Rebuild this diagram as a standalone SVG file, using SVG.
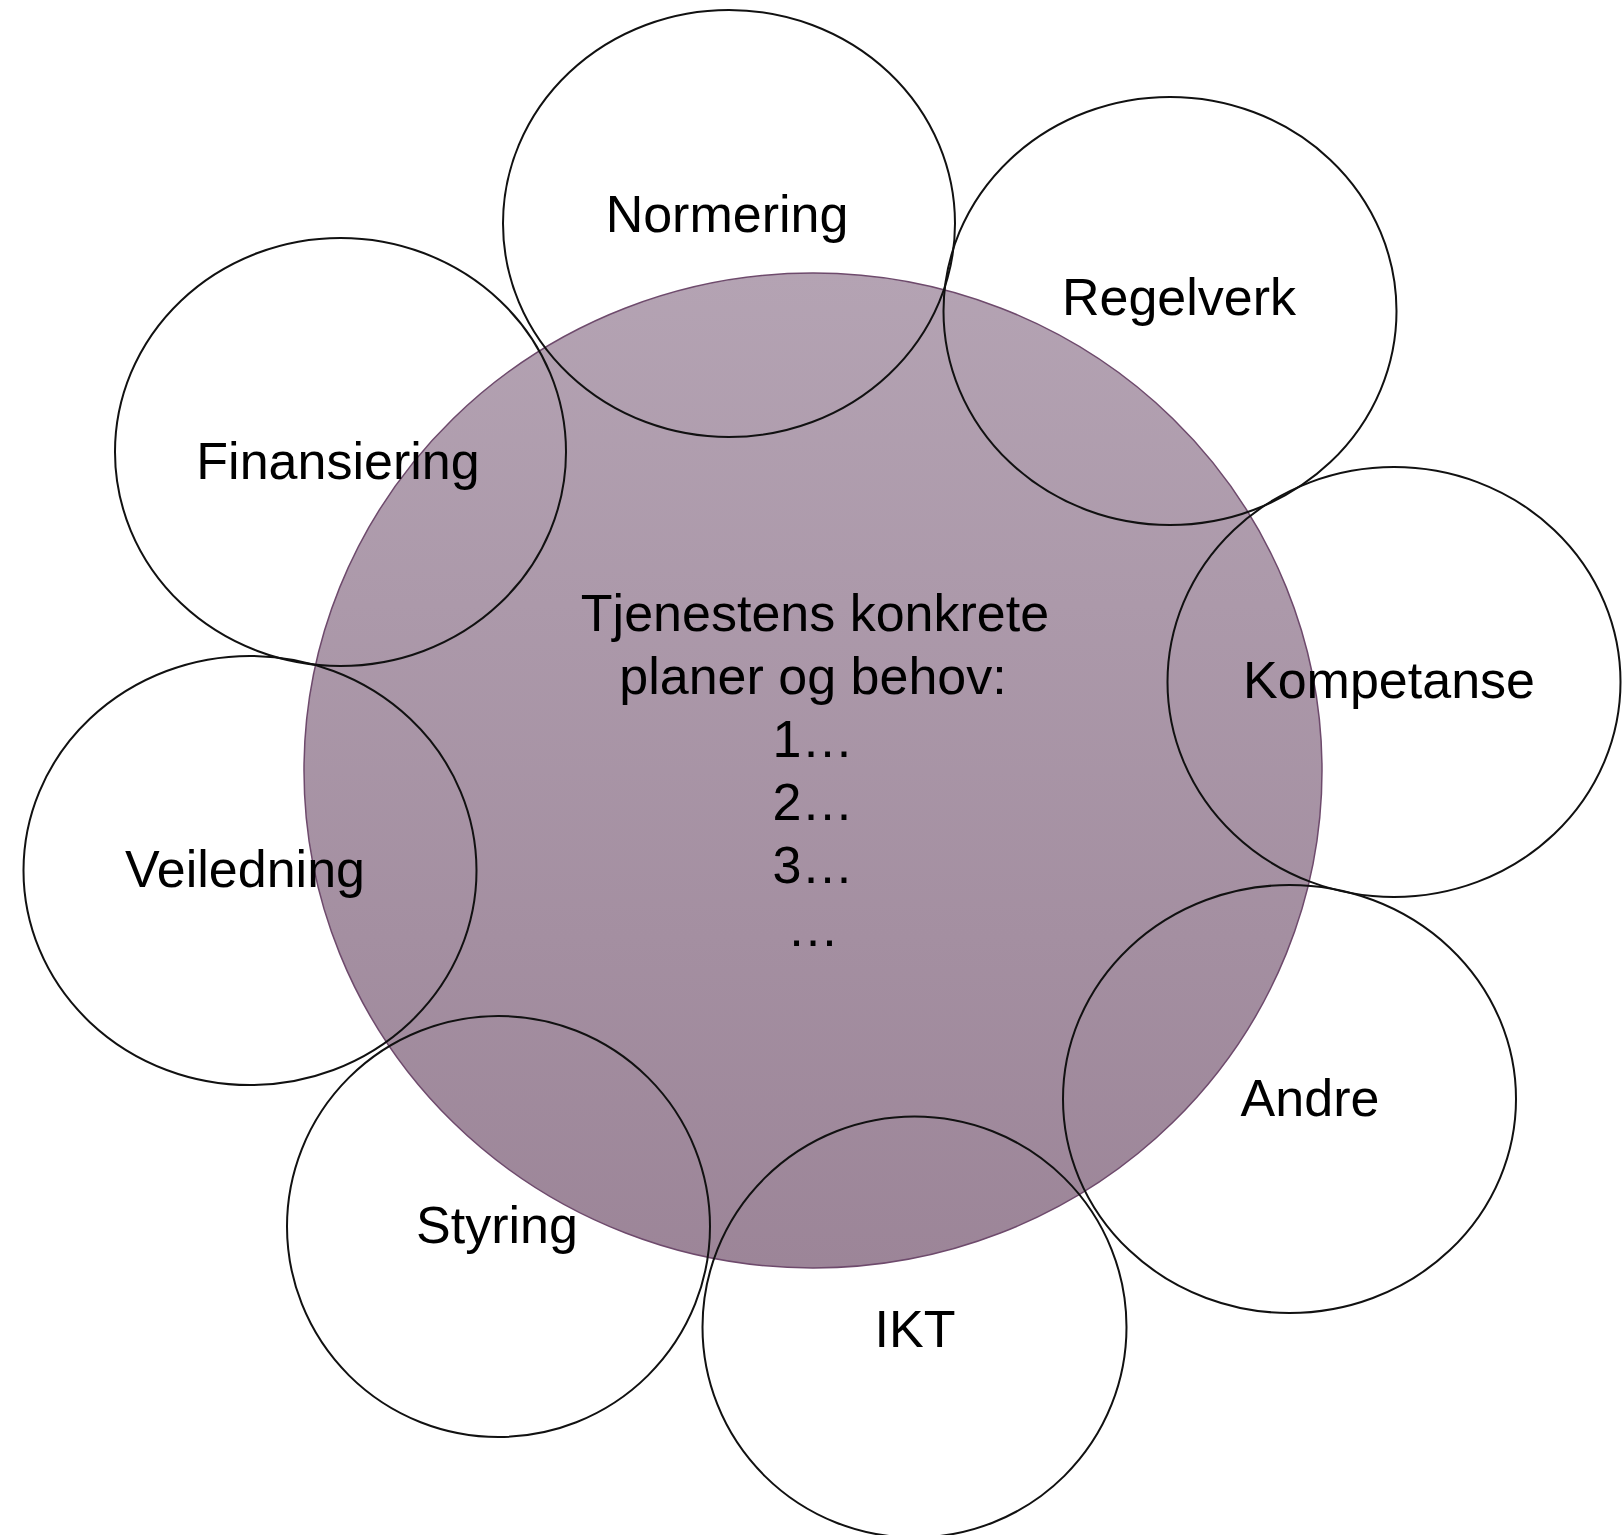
<svg xmlns="http://www.w3.org/2000/svg" width="1623" height="1535" viewBox="0 0 1623 1535">
  <style>
    .ring { fill: none; stroke: #111111; stroke-width: 2; }
    .label { font-family: "Liberation Sans", Arial, sans-serif; font-size: 52px; fill: #000; text-anchor: middle; }
  </style>
  <defs>
    <linearGradient id="coreFill" x1="0" y1="0" x2="0" y2="1">
      <stop offset="0" stop-color="#b4a3b3"/>
      <stop offset="1" stop-color="#9c8598"/>
    </linearGradient>
  </defs>
  <rect width="1623" height="1535" fill="#ffffff"/>

  <!-- central needs circle -->
  <g id="core">
    <ellipse cx="813" cy="770.5" rx="509" ry="497.5" fill="url(#coreFill)" stroke="#6e4a6c" stroke-width="1.5"/>
    <text class="label" x="815" y="631">Tjenestens konkrete</text>
    <text class="label" x="813" y="694">planer og behov:</text>
    <text class="label" x="813" y="757">1…</text>
    <text class="label" x="813" y="820">2…</text>
    <text class="label" x="813" y="883">3…</text>
    <text class="label" x="813" y="946">…</text>
  </g>

  <!-- surrounding factor circles -->
  <g id="normering">
    <ellipse class="ring" cx="729" cy="223.5" rx="226" ry="213.5"/>
    <text class="label" x="727" y="232">Normering</text>
  </g>
  <g id="regelverk">
    <ellipse class="ring" cx="1170" cy="311" rx="226.5" ry="214"/>
    <text class="label" x="1179" y="315">Regelverk</text>
  </g>
  <g id="kompetanse">
    <ellipse class="ring" cx="1394" cy="682" rx="226.5" ry="215"/>
    <text class="label" x="1389" y="698">Kompetanse</text>
  </g>
  <g id="andre">
    <ellipse class="ring" cx="1289.5" cy="1099" rx="226.5" ry="214"/>
    <text class="label" x="1310" y="1116">Andre</text>
  </g>
  <g id="ikt">
    <ellipse class="ring" cx="914.5" cy="1327" rx="212" ry="210.5"/>
    <text class="label" x="915" y="1347">IKT</text>
  </g>
  <g id="styring">
    <ellipse class="ring" cx="498.5" cy="1226.5" rx="211.5" ry="210.5"/>
    <text class="label" x="497" y="1243">Styring</text>
  </g>
  <g id="veiledning">
    <ellipse class="ring" cx="250" cy="870.5" rx="226.5" ry="214.5"/>
    <text class="label" x="245" y="887">Veiledning</text>
  </g>
  <g id="finansiering">
    <ellipse class="ring" cx="340.5" cy="452" rx="225.5" ry="214"/>
    <text class="label" x="338" y="479">Finansiering</text>
  </g>

  <g id="connectors"/>
</svg>
